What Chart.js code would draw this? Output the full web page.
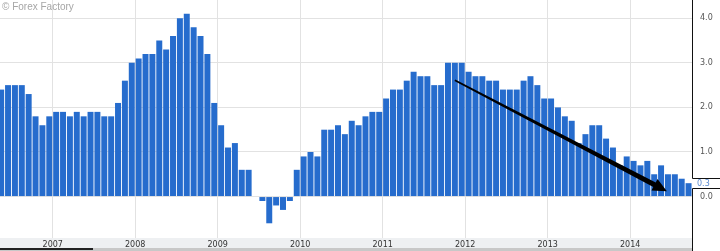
<!DOCTYPE html>
<html>
<head>
<meta charset="utf-8">
<script src="https://cdn.jsdelivr.net/npm/chart.js@4.4.0/dist/chart.umd.min.js"></script>
<style>
  html, body { margin: 0; padding: 0; background: #fff; }
  #wrap { width: 720px; height: 251px; position: relative; }
</style>
</head>
<body>
<div id="wrap"><canvas id="cpiChart" width="720" height="251"></canvas></div>
<script>
// monthly y/y values, first month of 2006 shown is May
const startYear = 2006;
const startMonth2006 = 5;
const cpi2006 = [2.4, 2.5, 2.5, 2.5, 2.3, 1.8, 1.6, 1.8];
const cpi2007 = [1.9, 1.9, 1.8, 1.9, 1.8, 1.9, 1.9, 1.8, 1.8, 2.1, 2.6, 3.0];
const cpi2008 = [3.1, 3.2, 3.2, 3.5, 3.3, 3.6, 4.0, 4.1, 3.8, 3.6, 3.2, 2.1];
const cpi2009 = [1.6, 1.1, 1.2, 0.6, 0.6, 0.0, -0.1, -0.6, -0.2, -0.3, -0.1, 0.6];
const cpi2010 = [0.9, 1.0, 0.9, 1.5, 1.5, 1.6, 1.4, 1.7, 1.6, 1.8, 1.9, 1.9];
const cpi2011 = [2.2, 2.4, 2.4, 2.6, 2.8, 2.7, 2.7, 2.5, 2.5, 3.0, 3.0, 3.0];
const cpi2012 = [2.8, 2.7, 2.7, 2.6, 2.6, 2.4, 2.4, 2.4, 2.6, 2.7, 2.5, 2.2];
const cpi2013 = [2.2, 2.0, 1.8, 1.7, 1.2, 1.4, 1.6, 1.6, 1.3, 1.1, 0.7, 0.9];
const cpi2014 = [0.8, 0.7, 0.8, 0.5, 0.7, 0.5, 0.5, 0.4, 0.3];

const yearLabels = [2007, 2008, 2009, 2010, 2011, 2012, 2013, 2014];
const yTicks = [0, 1, 2, 3, 4];
// trend arrow, in (months since Jan 2006, value)
const arrowFrom = [70.5, 2.61];
const arrowTo = [101.35, 0.12];

const byYear = [cpi2006, cpi2007, cpi2008, cpi2009, cpi2010, cpi2011, cpi2012, cpi2013, cpi2014];
const points = [];
byYear.forEach((vals, yi) => {
    const first = yi === 0 ? startMonth2006 : 1;
    vals.forEach((v, k) => {
        const m = yi * 12 + (first - 1) + k;
        points.push({ x: m + 0.5, y: v });
    });
});
const lastValue = cpi2014[cpi2014.length - 1];

const decor = {
    id: 'decor',
    beforeDraw(chart) {
        const c = chart.ctx, a = chart.chartArea;
        c.save();
        c.fillStyle = '#eef0f2';
        c.fillRect(0, a.bottom, a.right, chart.height - a.bottom);
        c.fillStyle = '#c8c8c8';
        c.fillRect(0, chart.height - 3, a.right, 3);
        c.fillStyle = '#222';
        c.fillRect(0, chart.height - 3, 93, 2);
        c.restore();
    },
    afterDraw(chart) {
        const c = chart.ctx, a = chart.chartArea;
        const xs = chart.scales.x, ys = chart.scales.y;
        c.save();

        // tapered trend arrow
        const x0 = xs.getPixelForValue(arrowFrom[0]), y0 = ys.getPixelForValue(arrowFrom[1]);
        const x1 = xs.getPixelForValue(arrowTo[0]), y1 = ys.getPixelForValue(arrowTo[1]);
        const dx = x1 - x0, dy = y1 - y0, len = Math.hypot(dx, dy);
        const ux = dx / len, uy = dy / len, nx = -uy, ny = ux;
        const headLen = 14, headW = 6.5;
        const bx = x1 - ux * headLen, by = y1 - uy * headLen;
        const w0 = 0.8, w1 = 2.6;
        c.fillStyle = '#000';
        c.beginPath();
        c.moveTo(x0 + nx * w0, y0 + ny * w0);
        c.lineTo(bx + nx * w1, by + ny * w1);
        c.lineTo(bx + nx * headW, by + ny * headW);
        c.lineTo(x1, y1);
        c.lineTo(bx - nx * headW, by - ny * headW);
        c.lineTo(bx - nx * w1, by - ny * w1);
        c.lineTo(x0 - nx * w0, y0 - ny * w0);
        c.closePath();
        c.fill();

        // right frame with last value marker
        const ly = Math.round(ys.getPixelForValue(lastValue));
        const top = ly - 5, bot = ly + 5;
        const rx = Math.round(a.right) + 0.5;
        c.strokeStyle = '#111';
        c.lineWidth = 1;
        c.beginPath();
        c.moveTo(rx, 0); c.lineTo(rx, top + 0.5);
        c.lineTo(chart.width, top + 0.5);
        c.moveTo(rx, chart.height); c.lineTo(rx, bot + 0.5);
        c.lineTo(chart.width, bot + 0.5);
        c.stroke();
        c.fillStyle = '#fff';
        c.fillRect(rx + 1, top + 1, chart.width - rx, bot - top - 1);
        c.fillStyle = '#5a8ad0';
        c.font = '8px "DejaVu Sans"';
        c.textBaseline = 'middle';
        c.textAlign = 'left';
        c.fillText(lastValue.toFixed(1), rx + 4.5, ly + 0.5);

        // watermark
        c.fillStyle = '#a6a6a6';
        c.font = '10px "Liberation Sans"';
        c.textBaseline = 'alphabetic';
        c.fillText('\u00A9 Forex Factory', 2, 10);
        c.restore();
    }
};

new Chart(document.getElementById('cpiChart').getContext('2d'), {
    type: 'bar',
    data: {
        datasets: [{
            data: points,
            backgroundColor: '#266ccd',
            borderWidth: 0,
            barPercentage: 0.87,
            categoryPercentage: 1.0
        }]
    },
    options: {
        responsive: false,
        animation: false,
        devicePixelRatio: 1,
        layout: { padding: 0 },
        plugins: {
            legend: { display: false },
            tooltip: { enabled: false }
        },
        scales: {
            x: {
                type: 'linear',
                offset: false,
                min: 4.33,
                max: 105,
                afterBuildTicks: (s) => { s.ticks = yearLabels.map(y => ({ value: (y - startYear) * 12 })); },
                afterFit: (s) => { s.height = 13; s.paddingLeft = 0; s.paddingRight = 0; },
                ticks: {
                    autoSkip: false,
                    maxRotation: 0,
                    padding: 2,
                    color: '#333',
                    font: { family: 'DejaVu Sans', size: 8 },
                    callback: (v) => String(startYear + v / 12)
                },
                grid: { color: '#e2e2e2', drawTicks: false, offset: false },
                border: { display: false }
            },
            y: {
                position: 'right',
                min: -0.93,
                max: 4.41,
                afterBuildTicks: (s) => { s.ticks = yTicks.map(v => ({ value: v })); },
                afterFit: (s) => { s.width = 28; s.paddingTop = 0; s.paddingBottom = 0; },
                ticks: {
                    padding: 8,
                    color: '#555',
                    font: { family: 'DejaVu Sans', size: 8 },
                    callback: (v) => v.toFixed(1)
                },
                grid: { color: '#e2e2e2', drawTicks: false },
                border: { display: false }
            }
        }
    },
    plugins: [decor]
});
</script>
</body>
</html>
